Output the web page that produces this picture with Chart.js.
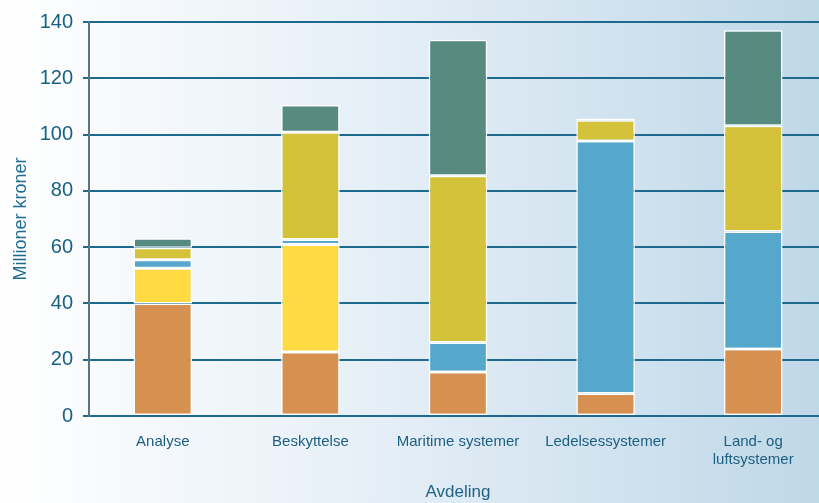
<!DOCTYPE html>
<html>
<head>
<meta charset="utf-8">
<script src="https://cdn.jsdelivr.net/npm/chart.js@4/dist/chart.umd.min.js"></script>
<style>
  html, body { margin: 0; padding: 0; overflow: hidden; }
  body { width: 819px; height: 503px; background: linear-gradient(to right, #ffffff 0%, #e6eff7 45%, #bfd8e8 100%); }
  #wrap { width: 828px; height: 503px; }
</style>
</head>
<body>
<div id="wrap"><canvas id="chart"></canvas></div>
<script>
// categories and series (million kroner)
const categories = ['Analyse', 'Beskyttelse', 'Maritime systemer', 'Ledelsessystemer', ['Land- og', 'luftsystemer']];
const orangeVals = [40.0, 22.7, 15.6, 8.0, 23.8];
const yellowVals = [12.5, 38.2, 0, 0, 0];
const blueVals   = [3.0, 1.8, 10.5, 89.7, 41.8];
const oliveVals  = [4.3, 38.1, 59.3, 7.4, 37.5];
const tealVals   = [3.4, 9.7, 48.3, 0.6, 34.0];
const yTicks = [0, 20, 40, 60, 80, 100, 120, 140];

const mk = (data, color) => ({
    data: data,
    backgroundColor: color,
    borderColor: '#ffffff',
    borderWidth: 1.5,
    borderSkipped: false,
    barPercentage: 0.397,
    categoryPercentage: 1.0
});

new Chart(document.getElementById('chart'), {
    type: 'bar',
    data: {
        labels: categories,
        datasets: [
            mk(orangeVals, '#d6904f'),
            mk(yellowVals, '#ffda42'),
            mk(blueVals, '#55a7cc'),
            mk(oliveVals, '#d4c23b'),
            mk(tealVals, '#578a80')
        ]
    },
    options: {
        responsive: true,
        maintainAspectRatio: false,
        animation: false,
        layout: { padding: { top: 11, left: 0, right: 1, bottom: 0 } },
        plugins: { legend: { display: false }, tooltip: { enabled: false } },
        scales: {
            x: {
                stacked: true,
                grid: { display: false },
                border: { color: '#1d6a8c', width: 2 },
                ticks: { color: '#1c5f80', font: { family: 'Liberation Sans', size: 15 }, padding: 9, maxRotation: 0, autoSkip: false },
                title: { display: true, text: 'Avdeling', color: '#1f6286', font: { family: 'Liberation Sans', size: 17 }, padding: { top: 4, bottom: 0 } },
                afterFit: s => { s.height = 87; }
            },
            y: {
                stacked: true,
                min: 0,
                max: 140,
                afterBuildTicks: s => { s.ticks = yTicks.map(v => ({ value: v })); },
                grid: { color: '#1d6a8c', lineWidth: 2, tickLength: 6, drawTicks: true },
                border: { color: '#5a7186', width: 2 },
                ticks: { color: '#176184', font: { family: 'Liberation Sans', size: 20 }, padding: 10 },
                title: { display: true, text: 'Millioner kroner', color: '#1c6c94', font: { family: 'Liberation Sans', size: 18 }, padding: { top: 10, bottom: 0 } },
                afterFit: s => { s.width = 89; }
            }
        }
    }
});
</script>
</body>
</html>
